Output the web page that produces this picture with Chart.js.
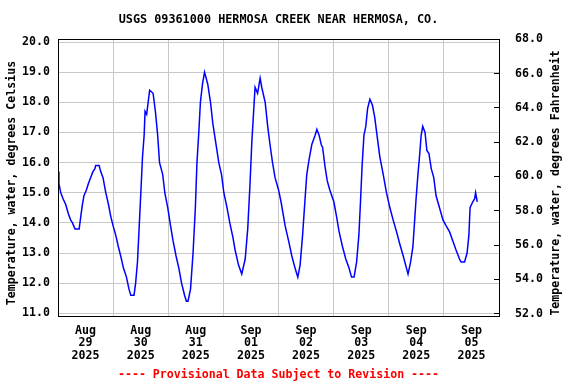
<!DOCTYPE html>
<html>
<head>
<meta charset="utf-8">
<script src="https://cdn.jsdelivr.net/npm/chart.js@4"></script>
<style>
  body { margin: 0; background: #ffffff; }
  #grafica { display: block; }
</style>
</head>
<body>
<canvas id="grafica" width="576" height="384"></canvas>
<script>
// Horas desde 2025-08-29 00:00 (lecturas tomadas de la gráfica)
const horas = [0.0, 0.4, 1.2, 2.2, 3.4, 4.5, 5.5, 6.3, 7.4, 9.2,
    9.9, 10.6, 11.3, 12.4, 13.2, 14.2, 15.2, 16.1, 16.4, 17.9,
    18.6, 19.6, 20.8, 22.0, 23.0, 24.0, 25.1, 26.3, 27.3, 28.5,
    29.8, 30.9, 31.7, 33.1, 33.8, 34.6, 35.3, 36.0, 36.8, 37.5,
    37.9, 38.6, 39.9, 41.4, 42.4, 43.4, 44.2, 45.6, 46.5, 47.8,
    49.0, 50.1, 51.4, 52.6, 53.8, 55.1, 55.9, 56.6, 57.7, 58.8,
    59.8, 60.5, 61.3, 62.0, 62.9, 63.8, 65.2, 66.4, 67.4, 68.6,
    70.0, 71.2, 72.2, 73.6, 74.8, 76.2, 77.1, 78.6, 80.0, 81.5,
    82.6, 83.6, 84.4, 85.1, 85.8, 86.9, 88.0, 88.7, 90.2, 91.3,
    92.3, 93.4, 94.5, 96.0, 97.1, 98.9, 100.4, 101.8, 103.2, 104.4,
    105.4, 106.5, 107.3, 108.3, 109.3, 110.5, 111.9, 112.7, 113.7, 114.6,
    115.2, 116.2, 117.2, 118.3, 120.1, 121.3, 122.4, 123.9, 125.3, 126.7,
    127.8, 128.9, 130.0, 131.0, 131.7, 132.4, 133.2, 134.0, 134.8, 135.8,
    136.9, 137.9, 138.9, 140.1, 141.6, 143.0, 144.5, 145.9, 147.4, 148.8,
    150.3, 151.7, 152.4, 153.5, 154.5, 155.2, 155.9, 156.7, 157.4, 158.1,
    158.8, 159.8, 160.6, 161.5, 162.5, 163.6, 164.6, 166.1, 167.6, 169.0,
    170.5, 171.9, 173.3, 174.8, 175.5, 177.0, 178.1, 178.9, 179.4, 180.6,
    181.4, 181.8, 182.3, 182.5];

// Temperatura del agua, grados Celsius
const temperaturas = [15.7, 15.3, 15.0, 14.8, 14.6, 14.3, 14.1, 14.0, 13.8, 13.8,
    14.2, 14.6, 14.9, 15.1, 15.3, 15.5, 15.7, 15.8, 15.9, 15.9,
    15.7, 15.5, 15.0, 14.6, 14.2, 13.9, 13.6, 13.2, 12.9, 12.5,
    12.2, 11.8, 11.6, 11.6, 12.0, 12.7, 13.8, 14.9, 16.2, 16.9,
    17.7, 17.6, 18.4, 18.3, 17.7, 16.9, 16.0, 15.6, 15.0, 14.5,
    13.9, 13.4, 12.9, 12.5, 12.0, 11.6, 11.4, 11.4, 11.8, 13.0,
    14.5, 16.0, 17.0, 18.0, 18.6, 19.0, 18.6, 18.0, 17.3, 16.7,
    16.0, 15.6, 15.0, 14.5, 14.0, 13.5, 13.1, 12.6, 12.3, 12.8,
    13.8, 15.3, 16.7, 17.6, 18.5, 18.3, 18.8, 18.5, 18.0, 17.2,
    16.6, 16.0, 15.5, 15.1, 14.7, 13.9, 13.4, 12.9, 12.5, 12.2,
    12.6, 13.6, 14.5, 15.6, 16.1, 16.6, 16.9, 17.1, 16.9, 16.6,
    16.5, 15.9, 15.4, 15.1, 14.7, 14.2, 13.7, 13.2, 12.8, 12.5,
    12.2, 12.2, 12.7, 13.6, 14.7, 15.9, 16.9, 17.2, 17.8, 18.1,
    17.9, 17.5, 16.9, 16.2, 15.6, 15.0, 14.5, 14.1, 13.7, 13.3,
    12.9, 12.5, 12.3, 12.7, 13.2, 14.0, 14.8, 15.6, 16.2, 16.9,
    17.2, 17.0, 16.4, 16.3, 15.8, 15.5, 14.9, 14.5, 14.1, 13.9,
    13.7, 13.4, 13.1, 12.8, 12.7, 12.7, 13.0, 13.6, 14.5, 14.7,
    14.8, 15.0, 14.8, 14.7];

// Etiquetas de los días (se ponen al mediodía de cada día)
const meses = ['Aug', 'Aug', 'Aug', 'Sep', 'Sep', 'Sep', 'Sep', 'Sep'];
const dias = ['29', '30', '31', '01', '02', '03', '04', '05'];
const anio = '2025';

// Marcas de los ejes
const ticksCelsius = [11, 12, 13, 14, 15, 16, 17, 18, 19, 20];
const ticksFahrenheit = [52, 54, 56, 58, 60, 62, 64, 66, 68];

const titulo = 'USGS 09361000 HERMOSA CREEK NEAR HERMOSA, CO.';
const aviso = '---- Provisional Data Subject to Revision ----';
const tituloC = 'Temperature, water, degrees Celsius';
const tituloF = 'Temperature, water, degrees Fahrenheit';

const fuente = 'DejaVu Sans Mono';
const gris = '#c8c8c8';

// Marco negro y títulos de los ejes Y (el de la derecha se lee de abajo a arriba)
const marcoYTitulos = {
    id: 'marcoYTitulos',
    afterDraw(chart) {
        const { ctx, chartArea } = chart;
        ctx.save();
        ctx.strokeStyle = '#000000';
        ctx.lineWidth = 1;
        ctx.strokeRect(Math.round(chartArea.left) + 0.5, Math.round(chartArea.top) + 0.5,
            Math.round(chartArea.right - chartArea.left), Math.round(chartArea.bottom - chartArea.top));
        ctx.fillStyle = '#000000';
        ctx.font = 'bold 11.6px "' + fuente + '"';
        ctx.textAlign = 'center';
        ctx.textBaseline = 'middle';
        ctx.translate(12, 183);
        ctx.rotate(-Math.PI / 2);
        ctx.fillText(tituloC, 0, 0);
        ctx.restore();

        ctx.save();
        ctx.fillStyle = '#000000';
        ctx.font = 'bold 11.6px "' + fuente + '"';
        ctx.textAlign = 'center';
        ctx.textBaseline = 'middle';
        ctx.translate(556, 183);
        ctx.rotate(-Math.PI / 2);
        ctx.fillText(tituloF, 0, 0);
        ctx.restore();
    }
};

const puntos = horas.map((h, i) => ({ x: h, y: temperaturas[i] }));

new Chart(document.getElementById('grafica').getContext('2d'), {
    type: 'line',
    data: {
        datasets: [{
            data: puntos,
            borderColor: '#0000ff',
            borderWidth: 1.5,
            pointRadius: 0,
            tension: 0,
            fill: false,
            yAxisID: 'y'
        }]
    },
    options: {
        responsive: false,
        animation: false,
        layout: { padding: 0 },
        plugins: {
            legend: { display: false },
            tooltip: { enabled: false },
            title: {
                display: true,
                text: titulo,
                fullSize: false,
                color: '#000000',
                font: { family: fuente, size: 11.8, weight: 'bold', lineHeight: 1.2 },
                padding: { top: 13, bottom: 11.84 }
            },
            subtitle: {
                display: true,
                text: aviso,
                position: 'bottom',
                fullSize: false,
                color: '#ff0000',
                font: { family: fuente, size: 11.6, weight: 'bold', lineHeight: 1.2 },
                padding: { top: 0, bottom: 2.04 }
            }
        },
        scales: {
            x: {
                type: 'linear',
                min: 0,
                max: 192,
                afterBuildTicks: (scale) => {
                    const t = [];
                    for (let v = 0; v <= 192; v += 12) t.push({ value: v });
                    scale.ticks = t;
                },
                afterFit: (scale) => { scale.height = 52.04; },
                grid: {
                    drawTicks: false,
                    color: (ctx) => (ctx.tick && ctx.tick.value % 24 === 0) ? gris : 'rgba(0,0,0,0)'
                },
                border: { display: false },
                ticks: {
                    autoSkip: false,
                    maxRotation: 0,
                    minRotation: 0,
                    padding: 8.4,
                    color: '#000000',
                    font: { family: fuente, size: 11.6, weight: 'bold', lineHeight: 1.09 },
                    callback: (value) => {
                        if (value % 24 !== 12) return '';
                        const i = (value - 12) / 24;
                        return [meses[i], dias[i], anio];
                    }
                }
            },
            y: {
                position: 'left',
                min: 10.91,
                max: 20.10,
                afterBuildTicks: (scale) => { scale.ticks = ticksCelsius.map(v => ({ value: v })); },
                afterFit: (scale) => { scale.width = 58; },
                grid: { color: gris, drawTicks: false },
                border: { display: false },
                ticks: {
                    padding: 8,
                    color: '#000000',
                    font: { family: fuente, size: 11.6, weight: 'bold' },
                    callback: (value) => value.toFixed(1)
                }
            },
            yF: {
                position: 'right',
                min: 51.86,
                max: 68.02,
                afterBuildTicks: (scale) => { scale.ticks = ticksFahrenheit.map(v => ({ value: v })); },
                afterFit: (scale) => { scale.width = 77; },
                grid: {
                    drawOnChartArea: false,
                    drawTicks: true,
                    tickLength: -5,
                    color: '#000000'
                },
                border: { display: false },
                ticks: {
                    padding: 21,
                    color: '#000000',
                    font: { family: fuente, size: 11.6, weight: 'bold' },
                    callback: (value) => value.toFixed(1)
                }
            }
        }
    },
    plugins: [marcoYTitulos]
});
</script>
</body>
</html>
